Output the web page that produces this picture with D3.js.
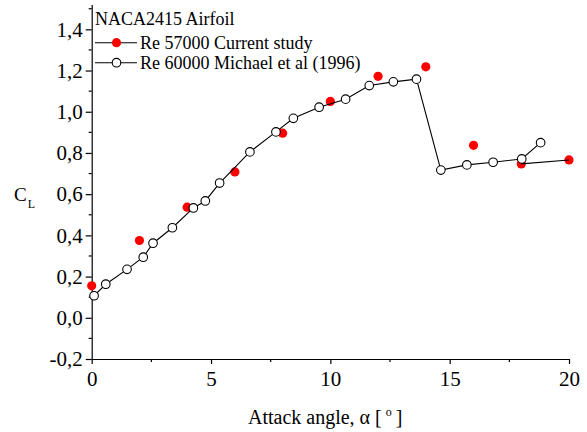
<!DOCTYPE html>
<html><head><meta charset="utf-8">
<script src="https://cdn.jsdelivr.net/npm/d3@7"></script>
<style>
html,body{margin:0;padding:0;background:#fff;}
svg{display:block;font-family:"Liberation Serif","Times New Roman",serif;}
</style></head>
<body>
<svg id="chart" width="587" height="432"></svg>
<script>
// Data
const alphaCurrent = [0, 2, 4, 6, 8, 10, 12, 14, 16, 18, 20];
const clCurrent = [0.155, 0.375, 0.537, 0.708, 0.896, 1.050, 1.172, 1.218, 0.837, 0.747, 0.766];
const alphaMichael = [0.1, 0.59, 1.48, 2.16, 2.57, 3.38, 4.26, 4.76, 5.36, 6.63, 7.72, 8.45, 9.53, 10.64, 11.63, 12.64, 13.61, 14.63, 15.72, 16.82, 18.02, 18.81];
const clMichael = [0.107, 0.163, 0.235, 0.294, 0.362, 0.437, 0.533, 0.567, 0.654, 0.805, 0.902, 0.968, 1.022, 1.061, 1.127, 1.145, 1.158, 0.717, 0.742, 0.755, 0.771, 0.850];
const xTicks = [0, 5, 10, 15, 20];
const yTicks = [-0.2, 0.0, 0.2, 0.4, 0.6, 0.8, 1.0, 1.2, 1.4];
const xMinorTicks = [2.5, 7.5, 12.5, 17.5];
const yMinorTicks = [-0.1, 0.1, 0.3, 0.5, 0.7, 0.9, 1.1, 1.3, 1.5];
const legendTitle = "NACA2415 Airfoil";
const seriesNames = ["Re 57000 Current study", "Re 60000 Michael et al (1996)"];

const svg = d3.select("#chart");
const x = d3.scaleLinear().domain([0, 20]).range([91.7, 569]);
const y = d3.scaleLinear().domain([-0.2, 1.52]).range([359, 4.6]);

const fmt = v => d3.format(".1f")(v).replace("−", "-").replace(".", ",");

// X axis
const gx = svg.append("g").attr("transform", `translate(0,${y(-0.2)})`)
  .call(d3.axisBottom(x).tickValues(xTicks).tickSize(5).tickSizeOuter(0).tickPadding(7).tickFormat(d3.format("d")));
gx.selectAll("text").attr("font-size", 21).attr("font-family", "Liberation Serif").attr("fill", "#000");
gx.selectAll(".domain").attr("stroke", "#000").attr("stroke-width", 1.2);
gx.selectAll(".tick line").attr("stroke", "#000").attr("stroke-width", 1.2);
svg.append("g").selectAll("line").data(xMinorTicks).join("line")
  .attr("x1", d => x(d)).attr("x2", d => x(d))
  .attr("y1", y(-0.2)).attr("y2", y(-0.2) + 3).attr("stroke", "#000").attr("stroke-width", 1.2);

// Y axis
const gy = svg.append("g").attr("transform", `translate(${x(0)},0)`)
  .call(d3.axisLeft(y).tickValues(yTicks).tickSize(6).tickSizeOuter(0).tickPadding(3).tickFormat(fmt));
gy.selectAll("text").attr("font-size", 21).attr("font-family", "Liberation Serif").attr("fill", "#000");
gy.selectAll(".domain").attr("stroke", "#000").attr("stroke-width", 1.2);
gy.selectAll(".tick line").attr("stroke", "#000").attr("stroke-width", 1.2);
svg.append("g").selectAll("line").data(yMinorTicks).join("line")
  .attr("x1", x(0) - 3).attr("x2", x(0))
  .attr("y1", d => y(d)).attr("y2", d => y(d)).attr("stroke", "#000").attr("stroke-width", 1.2);

// Axis titles
const yl = svg.append("text").attr("x", 14).attr("y", 200.5).attr("font-size", 19).attr("fill", "#000");
yl.append("tspan").text("C");
yl.append("tspan").attr("font-size", 12).attr("dy", 7).attr("dx", 1).text("L");

const xl = svg.append("text").attr("x", 248).attr("y", 424.3)
  .attr("font-size", 20).attr("fill", "#000");
xl.append("tspan").text("Attack angle, α [");
xl.append("tspan").attr("font-size", 12).attr("dy", -8).attr("dx", 4).text("o");
xl.append("tspan").attr("dy", 8).attr("dx", 4).text("]");

// Data
const current = alphaCurrent.map((a, i) => ({a, c: clCurrent[i]}));
const michael = alphaMichael.map((a, i) => ({a, c: clMichael[i]}));
const line = d3.line().x(d => x(d.a)).y(d => y(d.c));

// Current study: points, with the connecting line only at the last segment
svg.append("g").selectAll("circle").data(current).join("circle")
  .attr("cx", d => x(d.a)).attr("cy", d => y(d.c)).attr("r", 4.6).attr("fill", "#ff0000");
svg.append("path").datum(current.slice(-2)).attr("d", line)
  .attr("fill", "none").attr("stroke", "#000").attr("stroke-width", 1.1);

// Michael et al
svg.append("path").datum(michael).attr("d", line)
  .attr("fill", "none").attr("stroke", "#000").attr("stroke-width", 1.1);
svg.append("g").selectAll("circle").data(michael).join("circle")
  .attr("cx", d => x(d.a)).attr("cy", d => y(d.c)).attr("r", 4.3)
  .attr("fill", "#fff").attr("stroke", "#000").attr("stroke-width", 1.1);

// Legend
const lg = svg.append("g");
lg.append("text").attr("x", 95).attr("y", 25).attr("font-size", 18).attr("fill", "#000").text(legendTitle);
const rows = [{y: 42.7, type: "red"}, {y: 62.7, type: "open"}];
rows.forEach((r, i) => {
  lg.append("line").attr("x1", 95).attr("x2", 137).attr("y1", r.y).attr("y2", r.y)
    .attr("stroke", "#000").attr("stroke-width", 1.1);
  if (r.type === "red") {
    lg.append("circle").attr("cx", 116.5).attr("cy", r.y).attr("r", 4.6).attr("fill", "#ff0000");
  } else {
    lg.append("circle").attr("cx", 116.5).attr("cy", r.y).attr("r", 4.3)
      .attr("fill", "#fff").attr("stroke", "#000").attr("stroke-width", 1.1);
  }
  lg.append("text").attr("x", 140).attr("y", r.y + 5.8).attr("font-size", 18).attr("fill", "#000").text(seriesNames[i]);
});
</script>
</body></html>
